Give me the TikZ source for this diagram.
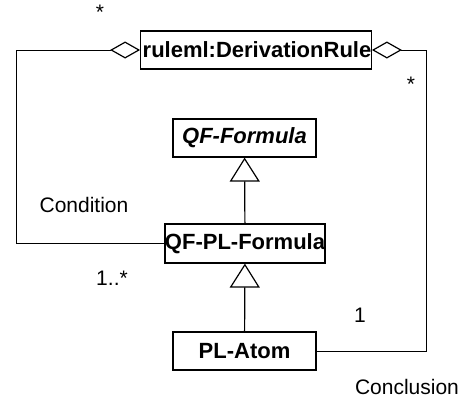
\documentclass[tikz,border=0pt]{standalone}
\usepackage{fontspec}
\setmainfont{Liberation Sans}
\usetikzlibrary{arrows.meta}

\tikzset{
  cls/.style={draw, line width=1.2pt, inner sep=0pt, minimum height=38pt,
    font=\fontsize{22}{26}\selectfont\bfseries},
  lbl/.style={inner sep=0pt, font=\fontsize{21}{25}\selectfont},
  agg/.style={line width=1pt, {Diamond[open,length=30pt,width=17pt,line width=1.2pt]}-},
  gen/.style={line width=1.2pt, -{Triangle[open,length=24pt,width=30pt,line width=1.2pt]}}
}

\begin{document}
\begin{tikzpicture}[x=1pt, y=-1pt]
      \useasboundingbox (0, 0) rectangle (466, 399);
      \node[cls, minimum width=226pt] (rule) at (256, 50) {\hspace{2pt}ruleml:DerivationRule};
      \node[cls, minimum width=143pt] (qf) at (244.5, 138) {\itshape QF-Formula};
      \node[cls, minimum width=160pt, minimum height=39pt] (qfpl) at (245, 243.5) {QF-PL-Formula};
      \node[cls, minimum width=143pt] (atom) at (244.5, 351) {PL-Atom};
      \draw[gen] (qfpl) -- (qf);
      \draw[gen] (atom) -- (qfpl);
      \draw[agg] (rule.west) -| ([xshift=-148pt]qfpl.west) -- (qfpl.west);
      \draw[agg] (rule.east) -| ([xshift=110pt]atom.east) -- (atom.east);
      \node[lbl] (mulcond) at (100, 12) {*};
      \node[lbl] (mulconc) at (411, 84) {*};
      \node[lbl] (cond) at (84, 205) {Condition};
      \node[lbl] (mulqfpl) at (112, 278) {1..*};
      \node[lbl] (mulatom) at (360, 315) {1};
      \node[lbl] (conc) at (407, 387) {Conclusion};
    \end{tikzpicture}
\end{document}
